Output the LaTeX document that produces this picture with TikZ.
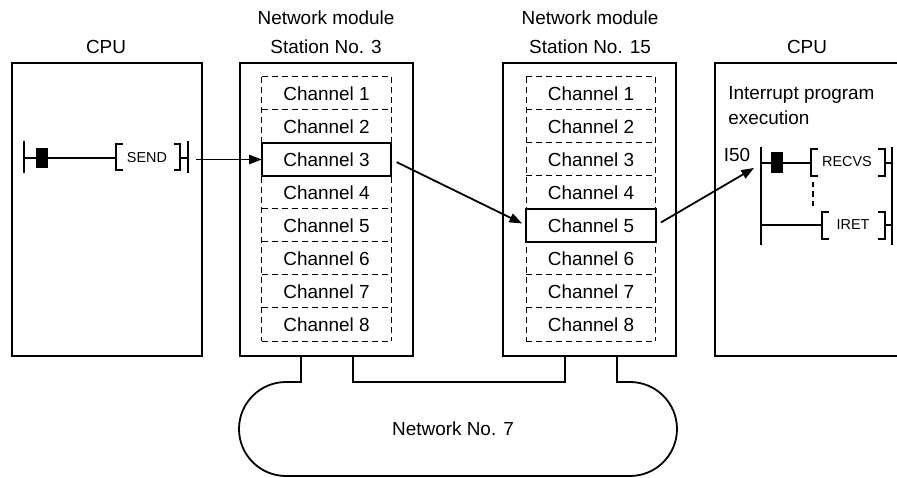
\documentclass[tikz,border=0pt]{standalone}
\usepackage{fontspec}
\setmainfont{Liberation Sans}
\usetikzlibrary{arrows.meta}
\begin{document}
\begin{tikzpicture}[x=0.75pt,y=-0.75pt,
  box/.style={draw,line width=1.7pt,inner sep=0pt},
  chan/.style={inner sep=0pt,minimum width=96.75pt,minimum height=24.75pt,font=\fontsize{14.2}{16}\selectfont},
  dsh/.style={line width=1.05pt,dash pattern=on 4.5pt off 3pt},
  sel/.style={line width=1.7pt},
  big/.style={font=\fontsize{14.2}{16}\selectfont,inner sep=0pt},
  small/.style={font=\fontsize{10.8}{12}\selectfont,inner sep=0pt},
  wire/.style={line width=1.35pt},
  rail/.style={line width=1.6pt},
  arr/.style={wire,-{Triangle[length=9.5pt,width=7pt]}},
]
\useasboundingbox (0,0) rectangle (897,478);

% headings
\node[big] (hcpu1) at (106,47) {CPU};
\node[big] (hm1a) at (326,18) {Network module};
\node[big] (hm1b) at (326,47) {Station No. 3};
\node[big] (hm2a) at (590,18) {Network module};
\node[big] (hm2b) at (590,47) {Station No. 15};
\node[big] (hcpu2) at (807,47) {CPU};

% boxes
\node[box,minimum width=142.5pt,minimum height=219.75pt] (cpuL) at (107,209.5) {};
\node[box,minimum width=129.75pt,minimum height=219.75pt] (m1) at (326.5,209.5) {};
\node[box,minimum width=129.75pt,minimum height=219.75pt] (m2) at (589.5,209.5) {};
\draw[box] (898,63) -- (715,63) -- (715,356) -- (898,356);

% channels
\foreach \i in {1,...,8} {
  \node[chan] (m1c\i) at (326.5,60.5+33*\i) {Channel \i};
  \node[chan] (m2c\i) at (591,60.5+33*\i) {Channel \i};
}
\draw[dsh] (m1c1.north west) -- (m1c8.south west);
\draw[dsh] (m1c1.north east) -- (m1c8.south east);
\draw[dsh] (m2c1.north west) -- (m2c8.south west);
\draw[dsh] (m2c1.north east) -- (m2c8.south east);
\foreach \i in {1,...,8} {
  \draw[dsh] (m1c\i.north west) -- (m1c\i.north east);
  \draw[dsh] (m2c\i.north west) -- (m2c\i.north east);
}
\draw[dsh] (m1c8.south west) -- (m1c8.south east);
\draw[dsh] (m2c8.south west) -- (m2c8.south east);
\draw[sel,fill=white] (m1c3.north west) rectangle (m1c3.south east);
\node[chan] (m1c3t) at (m1c3) {Channel 3};
\draw[sel,fill=white] (m2c5.north west) rectangle (m2c5.south east);
\node[chan] (m2c5t) at (m2c5) {Channel 5};

% left ladder (SEND)
\draw[rail] (24,141) -- (24,173);
\fill (36,148) rectangle (48,168);
\draw[wire] (24,158) -- (116,158);
\draw[rail] (123,144) -- (116,144) -- (116,170) -- (123,170);
\node[small] (send) at (147,158) {SEND};
\draw[rail] (174,144) -- (180,144) -- (180,170) -- (174,170);
\draw[wire] (180,158) -- (188,158);
\draw[rail] (188,141) -- (188,173);
\coordinate (sendout) at (196,159.5);

% right ladder
\node[big,anchor=base west] (intr1) at (728,100) {Interrupt program};
\node[big,anchor=base west] (intr2) at (728,125) {execution};
\node[big] (i50) at (737,155) {I50};
\draw[rail] (761,147) -- (761,245);
\fill (771,152) rectangle (783,173);
\draw[wire] (761,163) -- (811,163);
\draw[rail] (818,149) -- (811,149) -- (811,176) -- (818,176);
\node[small] (recvs) at (847,162) {RECVS};
\draw[rail] (878,149) -- (885,149) -- (885,176) -- (878,176);
\draw[wire] (885,163) -- (892,163);
\draw[rail] (892,147) -- (892,245);
\draw[wire,dash pattern=on 4pt off 3pt] (813,182) -- (813,209);
\draw[wire] (761,225) -- (822,225);
\draw[rail] (829,212) -- (822,212) -- (822,239) -- (829,239);
\node[small] (iret) at (853,225) {IRET};
\draw[rail] (878,212) -- (885,212) -- (885,239) -- (878,239);
\draw[wire] (885,225) -- (892,225);
\coordinate (i50in) at (754,168);

% arrows
\draw[arr] (sendout) -- (m1c3.west);
\draw[arr,shorten <=4.5pt,shorten >=3.5pt] (m1c3.east) -- (m2c5.west);
\draw[arr,shorten <=4.5pt] (m2c5.east) -- (i50in);

% network
\coordinate (a1) at (301,356);
\coordinate (a2) at (353,356);
\coordinate (b1) at (565,356);
\coordinate (b2) at (617,356);
\draw[wire] (a2) -- (353,382) -- (565,382) -- (b1);
\draw[wire] (a1) -- (301,382) -- (286,382)
  arc[start angle=90,end angle=270,radius=35.25pt] -- (630,476)
  arc[start angle=-90,end angle=90,radius=35.25pt] -- (617,382) -- (b2);
\node[big] (net) at (453,429) {Network No. 7};
\end{tikzpicture}
\end{document}
